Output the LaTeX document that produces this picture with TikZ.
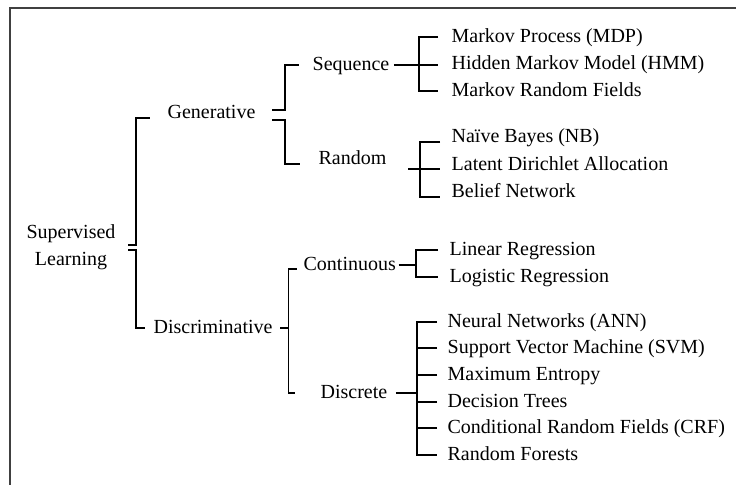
\documentclass[tikz,border=0pt]{standalone}
\usepackage{fontspec}
\setmainfont{Liberation Serif}

\begin{document}
\begin{tikzpicture}[x=1pt, y=-1pt, line width=1.3pt,
    font=\fontsize{20}{27}\selectfont,
    leaf/.style={anchor=west, inner sep=0pt, text height=14pt, text depth=4pt}]
    \useasboundingbox (0,0) rectangle (736,485);
    % Frame
    \draw[line width=2pt, black!75] (736,8) -- (10,8) -- (10,485);

    % Define nodes for the tree
    \node[align=center, inner sep=0pt] (SL) at (71,247) {Supervised\\Learning};
    \node[leaf] (Gen) at (167,113) {Generative};
    \node[leaf] (Dis) at (153,328) {Discriminative};

    \node[leaf] (Seq) at (312,65) {Sequence};
    \node[leaf] (Rnd) at (318,159) {Random};
    \node[leaf] (Con) at (303,265) {Continuous};
    \node[leaf] (Dsc) at (320,393) {Discrete};

    \node[leaf] (S1) at (451,37) {Markov Process (MDP)};
    \node[leaf] (S2) at (451,64) {Hidden Markov Model (HMM)};
    \node[leaf] (S3) at (451,91) {Markov Random Fields};
    \node[leaf] (R1) at (451,137) {Naïve Bayes (NB)};
    \node[leaf] (R2) at (451,165) {Latent Dirichlet Allocation};
    \node[leaf] (R3) at (451,192) {Belief Network};
    \node[leaf] (C1) at (449,250) {Linear Regression};
    \node[leaf] (C2) at (449,277) {Logistic Regression};
    \node[leaf] (D1) at (447,322) {Neural Networks (ANN)};
    \node[leaf] (D2) at (447,348) {Support Vector Machine (SVM)};
    \node[leaf] (D3) at (447,375) {Maximum Entropy};
    \node[leaf] (D4) at (447,402) {Decision Trees};
    \node[leaf] (D5) at (447,428) {Conditional Random Fields (CRF)};
    \node[leaf] (D6) at (447,455) {Random Forests};

    % Draw brackets
    \draw[shorten >=17pt] ([shift={(12,-2)}]SL.east) -- ++(8,0) |- ([yshift=-5pt]Gen.west);
    \draw[shorten >=8pt] ([shift={(12,3)}]SL.east) -- ++(8,0) |- (Dis.west);

    \draw[shorten >=13pt] ([shift={(16,-3)}]Gen.east) -- ++(13,0) |- (Seq.west);
    \draw[shorten >=18pt] ([shift={(16,7)}]Gen.east) -- ++(13,0) |- ([yshift=-5pt]Rnd.west);

    \draw[shorten >=6pt] ([xshift=7pt]Dis.east) -- ++(8,0) |- ([yshift=-4pt]Con.west);
    \draw[shorten >=25pt] ([xshift=7pt]Dis.east) -- ++(8,0) |- (Dsc.west);

    % Sequence
    \draw[shorten <=4pt, shorten >=13pt] (Seq.east) -- (Seq.east -| S2.west);
    \draw[shorten <=13pt, shorten >=13pt] (S1.west) -- ++(-32,0) |- (S3.west);

    % Random
    \draw[shorten <=21pt, shorten >=11pt] ([yshift=-10pt]Rnd.east) -- ([yshift=-4pt]R2.west);
    \draw[shorten <=11pt, shorten >=11pt] ([yshift=-5pt]R1.west) -- ++(-31,0) |- ([yshift=-5pt]R3.west);

    % Continuous
    \draw[shorten <=2pt, shorten >=33pt] (Con.east) -- (Con.east -| C1.west);
    \draw[shorten <=11pt, shorten >=11pt] (C1.west) -- ++(-33,0) |- (C2.west);

    % Discrete
    \draw[shorten <=8pt, shorten >=30pt] (Dsc.east) -- (Dsc.east -| D1.west);
    \draw[shorten <=10pt, shorten >=10pt] (D1.west) -- ++(-30,0) |- (D6.west);
    \foreach \n in {D2,D3,D4,D5}
        \draw[shorten <=10pt] (\n.west) -- ++(-30,0);

\end{tikzpicture}
\end{document}
